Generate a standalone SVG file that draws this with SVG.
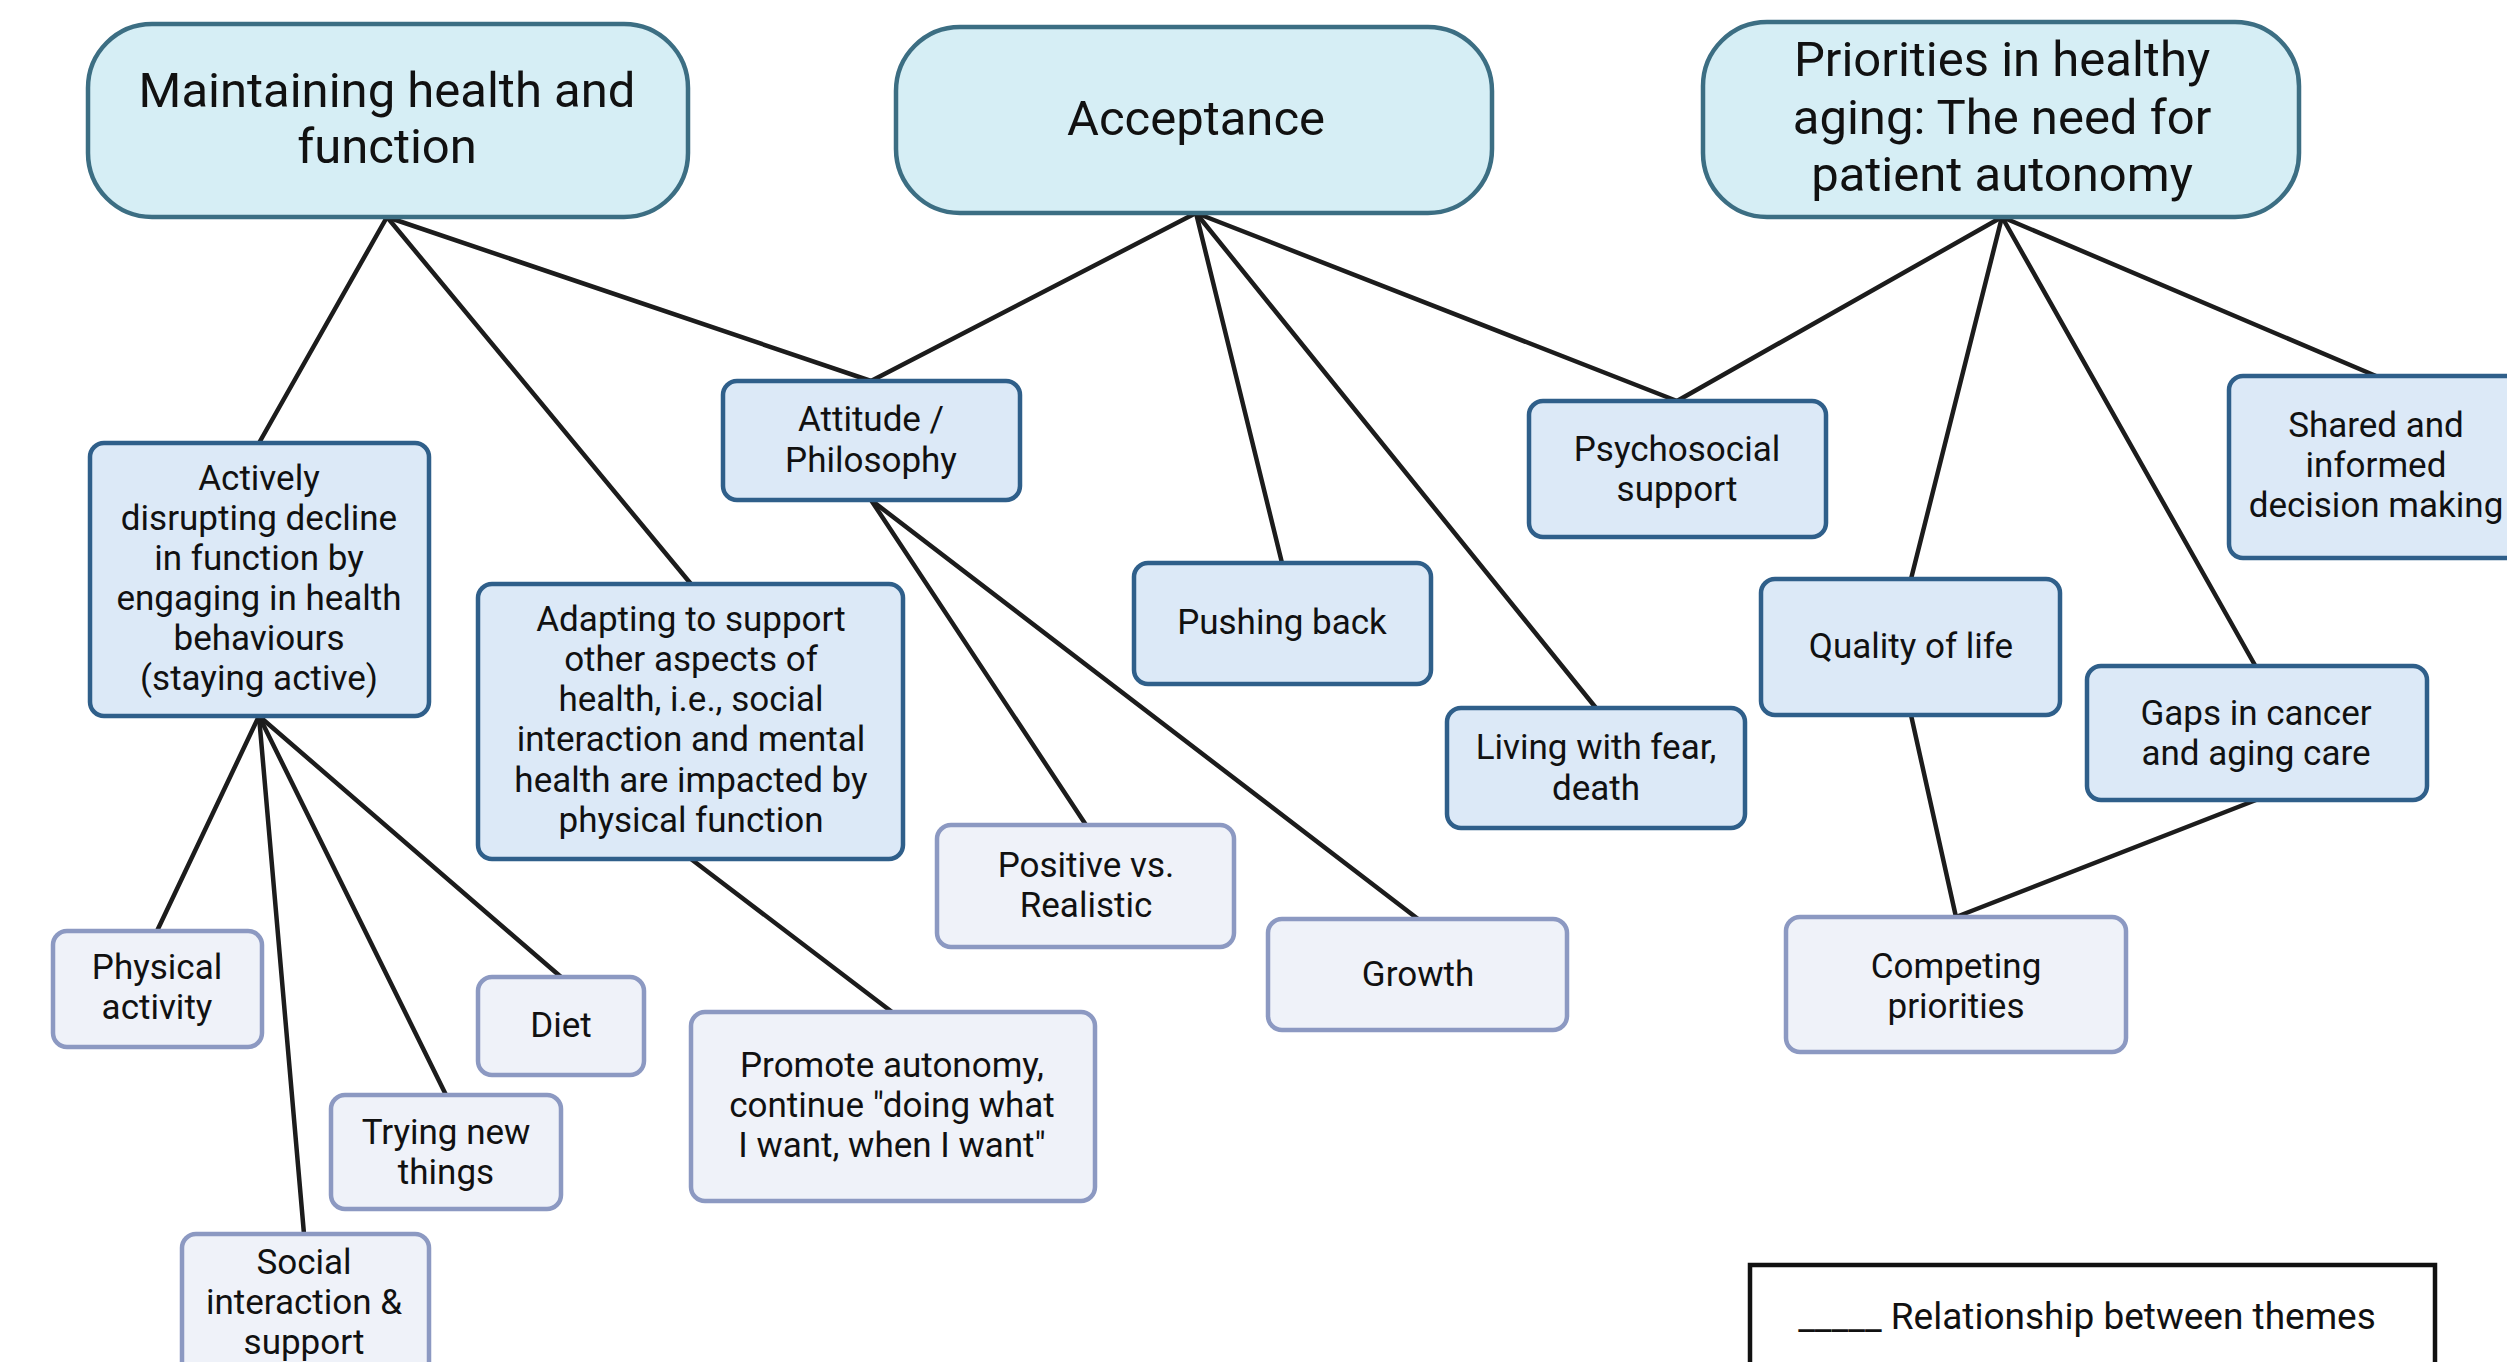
<svg xmlns="http://www.w3.org/2000/svg" width="2507" height="1362" viewBox="0 0 2507 1362">
<style>
text{font-family:Roboto,"Liberation Sans",sans-serif;fill:#111;text-anchor:middle}
.head rect{fill:#d6eef5;stroke:#3c6e83;stroke-width:4.5}
.head text{font-size:49px}
.l2 rect{fill:#dce9f7;stroke:#2f5f8a;stroke-width:4.5}
.l3 rect{fill:#eff2f9;stroke:#8c99c2;stroke-width:4.5}
.l2 text,.l3 text{font-size:35px}
#connectors line{stroke:#1c1c1c;stroke-width:4.5;stroke-linecap:round}
</style>
<rect width="2507" height="1362" fill="#fff"/>
<g id="connectors">
<line x1="387" y1="217" x2="259" y2="443"/>
<line x1="387" y1="217" x2="691" y2="584"/>
<line x1="387" y1="217" x2="871" y2="381"/>
<line x1="1196" y1="213" x2="871" y2="381"/>
<line x1="1196" y1="213" x2="1282" y2="563"/>
<line x1="1196" y1="213" x2="1596" y2="708"/>
<line x1="1196" y1="213" x2="1677" y2="401"/>
<line x1="2002" y1="217" x2="1677" y2="401"/>
<line x1="2002" y1="217" x2="1911" y2="579"/>
<line x1="2002" y1="217" x2="2256" y2="667"/>
<line x1="2002" y1="217" x2="2376" y2="376"/>
<line x1="259" y1="716" x2="157" y2="931"/>
<line x1="259" y1="716" x2="304" y2="1234"/>
<line x1="259" y1="716" x2="446" y2="1095"/>
<line x1="259" y1="716" x2="561" y2="977"/>
<line x1="691" y1="859" x2="892" y2="1012"/>
<line x1="871" y1="500" x2="1086" y2="825"/>
<line x1="871" y1="500" x2="1418" y2="919"/>
<line x1="1911" y1="715" x2="1956" y2="917"/>
<line x1="2256" y1="800" x2="1956" y2="917"/>
</g>
<g id="n-maintaining" class="head"><rect x="88" y="24" width="600" height="193" rx="64"/><text x="387" y="107">Maintaining health and</text><text x="387" y="163">function</text></g>
<g id="n-acceptance" class="head"><rect x="896" y="27" width="596" height="186" rx="64"/><text x="1196" y="135">Acceptance</text></g>
<g id="n-priorities" class="head"><rect x="1703" y="22" width="596" height="195" rx="64"/><text x="2002" y="76">Priorities in healthy</text><text x="2002" y="134">aging: The need for</text><text x="2002" y="191">patient autonomy</text></g>
<g id="n-actively" class="l2"><rect x="90" y="443" width="339" height="273" rx="14"/><text x="259" y="490">Actively</text><text x="259" y="530">disrupting decline</text><text x="259" y="570">in function by</text><text x="259" y="610">engaging in health</text><text x="259" y="650">behaviours</text><text x="259" y="690">(staying active)</text></g>
<g id="n-attitude" class="l2"><rect x="723" y="381" width="297" height="119" rx="14"/><text x="871" y="431">Attitude /</text><text x="871" y="472">Philosophy</text></g>
<g id="n-adapting" class="l2"><rect x="478" y="584" width="425" height="275" rx="14"/><text x="691" y="631">Adapting to support</text><text x="691" y="671">other aspects of</text><text x="691" y="711">health, i.e., social</text><text x="691" y="751">interaction and mental</text><text x="691" y="792">health are impacted by</text><text x="691" y="832">physical function</text></g>
<g id="n-pushing" class="l2"><rect x="1134" y="563" width="297" height="121" rx="14"/><text x="1282" y="634">Pushing back</text></g>
<g id="n-psychosocial" class="l2"><rect x="1529" y="401" width="297" height="136" rx="14"/><text x="1677" y="461">Psychosocial</text><text x="1677" y="501">support</text></g>
<g id="n-living" class="l2"><rect x="1447" y="708" width="298" height="120" rx="14"/><text x="1596" y="759">Living with fear,</text><text x="1596" y="800">death</text></g>
<g id="n-quality" class="l2"><rect x="1761" y="579" width="299" height="136" rx="14"/><text x="1911" y="658">Quality of life</text></g>
<g id="n-gaps" class="l2"><rect x="2087" y="666" width="340" height="134" rx="14"/><text x="2256" y="725">Gaps in cancer</text><text x="2256" y="765">and aging care</text></g>
<g id="n-shared" class="l2"><rect x="2229" y="376" width="300" height="182" rx="14"/><text x="2376" y="437">Shared and</text><text x="2376" y="477">informed</text><text x="2376" y="517">decision making</text></g>
<g id="n-physical" class="l3"><rect x="53" y="931" width="209" height="116" rx="14"/><text x="157" y="979">Physical</text><text x="157" y="1019">activity</text></g>
<g id="n-diet" class="l3"><rect x="478" y="977" width="166" height="98" rx="14"/><text x="561" y="1037">Diet</text></g>
<g id="n-trying" class="l3"><rect x="331" y="1095" width="230" height="114" rx="14"/><text x="446" y="1144">Trying new</text><text x="446" y="1184">things</text></g>
<g id="n-social" class="l3"><rect x="182" y="1234" width="247" height="150" rx="14"/><text x="304" y="1274">Social</text><text x="304" y="1314">interaction &amp;</text><text x="304" y="1354">support</text></g>
<g id="n-promote" class="l3"><rect x="691" y="1012" width="404" height="189" rx="14"/><text x="892" y="1077">Promote autonomy,</text><text x="892" y="1117">continue "doing what</text><text x="892" y="1157">I want, when I want"</text></g>
<g id="n-positive" class="l3"><rect x="937" y="825" width="297" height="122" rx="14"/><text x="1086" y="877">Positive vs.</text><text x="1086" y="917">Realistic</text></g>
<g id="n-growth" class="l3"><rect x="1268" y="919" width="299" height="111" rx="14"/><text x="1418" y="986">Growth</text></g>
<g id="n-competing" class="l3"><rect x="1786" y="917" width="340" height="135" rx="14"/><text x="1956" y="978">Competing</text><text x="1956" y="1018">priorities</text></g>
<g id="legend"><rect x="1750" y="1265" width="685" height="130" fill="#fff" stroke="#111" stroke-width="4.5"/><text x="2087" y="1329" style="font-size:37px">_____  Relationship between themes</text></g>
</svg>
